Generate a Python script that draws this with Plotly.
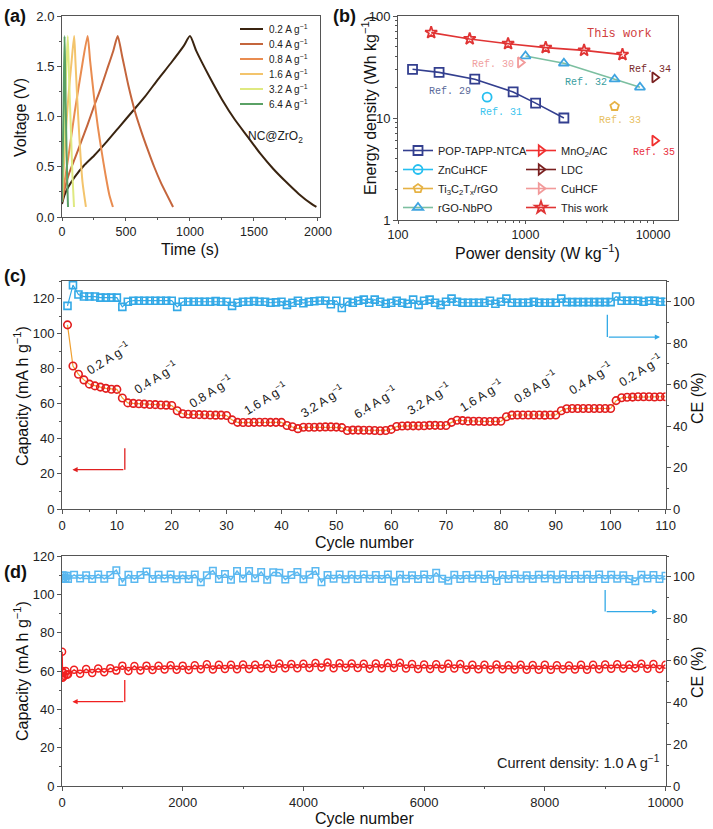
import math
import plotly.graph_objects as go

W, H = 713, 829

# ---------------- (a) GCD data ----------------
gcd_labels = ["0.2 A g<sup>−1</sup>", "0.4 A g<sup>−1</sup>", "0.8 A g<sup>−1</sup>",
              "1.6 A g<sup>−1</sup>", "3.2 A g<sup>−1</sup>", "6.4 A g<sup>−1</sup>"]
gcd_colors = ["#3a2410", "#c4653c", "#e98c50", "#f3c46c", "#dfe981", "#5aa165"]
gcd_t = [
    [0, 20, 50, 100, 170, 250, 350, 450, 550, 650, 750, 850, 950, 1000,
     1050, 1150, 1250, 1350, 1450, 1550, 1650, 1750, 1850, 1950, 1988],
    [0, 25, 60, 100, 150, 200, 250, 300, 350, 400, 435,
     470, 520, 570, 620, 670, 720, 770, 820, 868],
    [0, 20, 50, 100, 150, 200, 220, 250, 280, 310, 340, 370, 398],
    [0, 10, 25, 50, 75, 95, 105, 120, 140, 160, 187],
    [0, 8, 20, 32, 45, 55, 70, 82, 94],
    [0, 5, 12, 20, 25, 32, 40, 47],
]
gcd_v = [
    [0.13, 0.22, 0.30, 0.40, 0.51, 0.61, 0.75, 0.90, 1.05, 1.20, 1.37, 1.53, 1.70, 1.80,
     1.65, 1.40, 1.17, 0.97, 0.80, 0.63, 0.48, 0.35, 0.23, 0.13, 0.10],
    [0.15, 0.30, 0.45, 0.58, 0.75, 0.92, 1.10, 1.27, 1.46, 1.65, 1.80,
     1.60, 1.30, 1.05, 0.85, 0.67, 0.50, 0.35, 0.22, 0.10],
    [0.15, 0.35, 0.60, 1.05, 1.45, 1.80, 1.55, 1.20, 0.90, 0.65, 0.42, 0.22, 0.10],
    [0.15, 0.40, 0.75, 1.20, 1.55, 1.80, 1.55, 1.15, 0.70, 0.35, 0.10],
    [0.15, 0.50, 1.00, 1.45, 1.80, 1.40, 0.85, 0.40, 0.10],
    [0.15, 0.55, 1.10, 1.80, 1.40, 0.90, 0.40, 0.10],
]

# ---------------- (b) Ragone data ----------------
pop_p = [130, 210, 400, 800, 1200, 2000]
pop_e = [30, 28, 24, 18, 14, 10]
zncuhcf_p = [500]
zncuhcf_e = [16]
ti3c2_p = [5000]
ti3c2_e = [13]
nbpo_p = [1000, 2000, 5000, 7900]
nbpo_e = [40.5, 34.4, 24, 20]
mno2_p = [10300]
mno2_e = [6.0]
ldc_p = [10300]
ldc_e = [25]
cuhcf_p = [910]
cuhcf_e = [35]
this_p = [182, 365, 730, 1440, 2880, 5760]
this_e = [68.7, 59.6, 53.5, 49, 46, 41.8]

# ---------------- (c) rate data ----------------
rate_cycle = list(range(1, 111))
rate_cap = [105, 81.5, 76.8, 73.6, 71.2, 70.2, 69.5, 68.8, 68.3, 68.2,
            63.3, 60.5, 60.2, 60.0, 59.8, 59.6, 59.5, 59.3, 59.2, 59.0,
            56.0, 54.3, 54.0, 53.9, 53.8, 53.7, 53.6, 53.5, 53.5, 53.3,
            50.8, 49.4, 49.3, 49.3, 49.4, 49.5, 49.5, 49.4, 49.4, 49.4,
            47.6, 46.9, 45.8, 46.6, 46.6, 46.6, 46.7, 46.8, 46.8, 46.7,
            46.4, 44.8, 45.0, 45.0, 44.9, 44.9, 44.8, 44.6, 44.8, 45.4,
            47.0, 47.3, 47.4, 47.4, 47.4, 47.5, 47.7, 47.7, 47.6, 47.6,
            49.4, 50.6, 50.4, 50.1, 50.0, 50.0, 49.9, 49.9, 50.0, 50.0,
            52.6, 53.5, 53.6, 53.6, 53.6, 53.6, 53.6, 53.5, 53.6, 53.6,
            56.0, 57.2, 57.3, 57.3, 57.3, 57.3, 57.3, 57.3, 57.3, 57.3,
            61.8, 63.4, 63.7, 63.8, 64.0, 64.0, 64.0, 63.9, 64.0, 64.0]
rate_ce = [98, 108, 103.5, 102.5, 102.5, 102.5, 102, 102, 102, 102,
           97.5, 100, 100.5, 100.5, 100.5, 100.5, 100.5, 100.5, 100.5, 100.5,
           97.5, 100, 100, 100, 100, 100, 100, 100.3, 100, 100,
           98, 99.5, 100, 100, 100.3, 100, 100, 99.5, 99.7, 100,
           98.5, 99.5, 100.5, 99.3, 100, 100.2, 100.5, 100.5, 98.8, 100.5,
           97, 100, 99.5, 100.5, 101, 99.5, 101, 100, 99, 99.5,
           100.5, 99.5, 99, 101, 98.5, 100.5, 101, 99.5, 98.5, 100,
           101.5, 100, 99.5, 99.5, 99.5, 99.5, 99.5, 100.5, 99, 100,
           101.5, 99.5, 99.5, 99.5, 99.5, 100, 99.5, 99.5, 99.5, 99.5,
           101.5, 99.8, 99.8, 99.8, 99.8, 99.8, 99.8, 99.8, 99.8, 99.8,
           102.5, 100.5, 100.5, 100.5, 100.5, 100, 100.5, 100.5, 100, 100]
rate_text = ["0.2", "0.4", "0.8", "1.6", "3.2", "6.4", "3.2", "1.6", "0.8", "0.4", "0.2"]
rate_text_x = [8.3, 17.0, 27.0, 37.0, 47.3, 57.0, 66.8, 76.4, 86.3, 96.2, 105.3]
rate_text_y = [86.0, 75.5, 67.5, 63.3, 61.5, 61.0, 63.5, 64.8, 70.0, 74.8, 79.5]

# ---------------- (d) long cycling data ----------------
long_cycle = [1, 3, 6, 10, 20, 40, 60, 80] + list(range(100, 10001, 100))
long_cap = [70, 57, 60, 56.5, 59, 57.5, 60, 58,
            58.3, 60.6, 58.6, 61.0, 59.0, 61.3, 59.3, 61.5, 60.2, 62.8,
            60.0, 62.6, 60.3, 62.8, 60.5, 62.7, 60.8, 63.0, 60.6, 62.8,
            60.5, 63.0, 60.9, 63.5, 60.8, 63.2, 61.0, 63.3, 60.9, 63.4,
            61.1, 63.2, 61.4, 63.6, 61.2, 63.9, 61.4, 63.7, 61.5, 63.8,
            61.6, 64.2, 61.8, 64.4, 61.5, 64.0, 61.7, 63.9, 61.6, 63.8,
            61.2, 63.9, 61.5, 64.2, 61.6, 64.3, 61.3, 63.6, 61.0, 63.4,
            61.0, 63.5, 61.2, 63.8, 61.3, 63.6, 60.8, 63.2, 60.9, 63.3,
            60.8, 63.4, 60.9, 63.0, 60.8, 63.3, 60.6, 63.1, 60.7, 63.2,
            60.7, 63.0, 60.9, 62.9, 60.8, 63.2, 60.6, 63.3, 60.9, 63.4,
            61.2, 63.5, 61.3, 63.2, 61.5, 63.8, 61.2, 63.6, 61.0, 63.3]
long_ce = [99.0, 100.5, 99.5, 100.8, 99.2, 100.6, 99.4, 100.5,
           99.0, 101.0, 99.2, 100.8, 99.0, 101.2, 99.1, 100.9, 103.2, 97.6,
           101.0, 99.0, 100.9, 102.6, 99.0, 101.0, 99.2, 101.1, 98.9, 100.8,
           99.0, 101.2, 97.5, 100.8, 103.0, 99.0, 101.4, 98.6, 102.8, 99.2,
           102.8, 99.3, 102.4, 98.7, 102.2, 102.0, 98.8, 100.9, 102.3, 98.9,
           101.0, 102.8, 97.5, 100.9, 99.1, 101.1, 98.9, 101.0, 99.0, 101.2,
           99.1, 100.9, 99.0, 101.2, 97.8, 101.0, 99.1, 100.8, 99.0, 101.1,
           99.0, 102.0, 99.1, 98.2, 101.0, 99.0, 100.9, 99.2, 101.0, 99.0,
           101.1, 98.0, 100.9, 99.0, 101.1, 99.1, 100.8, 99.0, 101.0, 99.2,
           101.0, 98.9, 101.1, 99.0, 100.9, 99.1, 101.0, 99.0, 101.2, 99.0,
           101.0, 99.1, 100.8, 99.0, 97.9, 101.0, 99.2, 100.9, 99.0, 100.5]

# ---------------- layout helpers ----------------
def xdom(l, r):
    return [l / W, r / W]

def ydom(t, b):
    return [1 - b / H, 1 - t / H]

def px(x):
    return x / W

def py(y):
    return 1 - y / H

FONT = "Liberation Sans"
AX = "#555555"
TICKF = dict(family=FONT, size=13, color="#222222")
TICKF_TOP = dict(family=FONT, size=12.5, color="#222222")
TITLEF = dict(family=FONT, size=16, color="#111111")

fig = go.Figure()

# (a)
for t, v, c, lab in zip(gcd_t, gcd_v, gcd_colors, gcd_labels):
    fig.add_trace(go.Scatter(x=t, y=v, mode="lines", name=lab, showlegend=False,
                             line=dict(color=c, width=2, shape="spline", smoothing=0.6),
                             xaxis="x", yaxis="y"))

# (b)
REF_COL = dict(pop="#333f8f", zn="#26bff0", ti="#e6b244", nb="#3ea4e0", mn="#f03030", ldc="#7a2020",
               cu="#f29a9a", tw="#e03434")
left_items = [
    ("POP-TAPP-NTCA", pop_p, pop_e, REF_COL["pop"], REF_COL["pop"], "square-open"),
    ("ZnCuHCF", zncuhcf_p, zncuhcf_e, REF_COL["zn"], REF_COL["zn"], "circle-open"),
    ("Ti<sub>3</sub>C<sub>2</sub>T<sub>x</sub>/rGO", ti3c2_p, ti3c2_e, REF_COL["ti"], REF_COL["ti"], "pentagon-open"),
    ("rGO-NbPO", nbpo_p, nbpo_e, "#7cbfa0", REF_COL["nb"], "triangle-up-open"),
]
right_items = [
    ("MnO<sub>2</sub>/AC", mno2_p, mno2_e, REF_COL["mn"], REF_COL["mn"], "triangle-right-open"),
    ("LDC", ldc_p, ldc_e, REF_COL["ldc"], REF_COL["ldc"], "triangle-right-open"),
    ("CuHCF", cuhcf_p, cuhcf_e, REF_COL["cu"], REF_COL["cu"], "triangle-right-open"),
    ("This work", this_p, this_e, REF_COL["tw"], REF_COL["tw"], "star-open"),
]
for items, lg in ((left_items, "legend2"), (right_items, "legend3")):
    for name, xs, ys, lc, mc, sym in items:
        fig.add_trace(go.Scatter(x=xs, y=ys, mode="lines+markers", name=name,
                                 line=dict(color=lc, width=1.6),
                                 marker=dict(symbol=sym, size=9, color=mc, line=dict(width=1.8, color=mc)),
                                 xaxis="x2", yaxis="y2", legend=lg))

# (c)
fig.add_trace(go.Scatter(x=rate_cycle, y=rate_cap, mode="lines+markers", showlegend=False,
                         line=dict(color="#f0a030", width=1.2),
                         marker=dict(symbol="circle-open", size=7.5, color="#e21d1d", line=dict(width=1.6)),
                         xaxis="x3", yaxis="y3"))
fig.add_trace(go.Scatter(x=rate_cycle, y=rate_ce, mode="lines+markers", showlegend=False,
                         line=dict(color="#33a9e6", width=1.2),
                         marker=dict(symbol="square-open", size=7, color="#33a9e6", line=dict(width=1.6)),
                         xaxis="x3", yaxis="y4"))

# (d)
fig.add_trace(go.Scatter(x=long_cycle, y=long_cap, mode="lines+markers", showlegend=False,
                         line=dict(color="#f02020", width=1.5),
                         marker=dict(symbol="circle-open", size=7, color="#f02020", line=dict(width=1.5)),
                         xaxis="x4", yaxis="y5"))
fig.add_trace(go.Scatter(x=long_cycle, y=long_ce, mode="lines+markers", showlegend=False,
                         line=dict(color="#5ab8f0", width=1.5),
                         marker=dict(symbol="square-open", size=6.5, color="#5ab8f0", line=dict(width=1.5)),
                         xaxis="x4", yaxis="y6"))

def axis(dom, rng, **kw):
    d = dict(domain=dom, range=rng, showline=True, linecolor=AX, linewidth=1, mirror=False, automargin=False,
             ticks="outside", ticklen=4, tickcolor=AX, tickfont=TICKF, showgrid=False, zeroline=False)
    d.update(kw)
    return d

minor = lambda dt: dict(ticks="outside", ticklen=2, tickcolor=AX, dtick=dt, showgrid=False)

fig.update_layout(
    width=W, height=H, margin=dict(l=0, r=0, t=0, b=0, autoexpand=False),
    paper_bgcolor="white", plot_bgcolor="white",
    font=dict(family=FONT, color="#222"),
    xaxis=axis(xdom(62, 320), [0, 2016], anchor="y", mirror=True, dtick=500, minor=minor(250),
               ticklen=3, tickfont=TICKF_TOP),
    yaxis=axis(ydom(16, 217), [0, 2.0], anchor="x", mirror=True, dtick=0.5, tickformat=".1f", minor=minor(0.25)),
    xaxis2=axis(xdom(398, 678), [2, 4.196], type="log", anchor="y2", mirror=True, ticklen=3, tickfont=TICKF_TOP,
                tickvals=[100, 1000, 10000], ticktext=["100", "1000", "10000"],
                minor=dict(ticks="outside", ticklen=2, tickcolor=AX,
                           tickvals=[200, 300, 400, 500, 600, 700, 800, 900, 2000, 3000, 4000, 5000, 6000, 7000, 8000, 9000])),
    yaxis2=axis(ydom(16, 220), [0, 2], type="log", anchor="x2", mirror=True,
                tickvals=[1, 10, 100], ticktext=["1", "10", "100"],
                minor=dict(ticks="outside", ticklen=2, tickcolor=AX,
                           tickvals=[2, 3, 4, 5, 6, 7, 8, 9, 20, 30, 40, 50, 60, 70, 80, 90])),
    xaxis3=axis(xdom(62, 665.5), [0, 110], anchor="y3", mirror=True, dtick=10, minor=minor(5)),
    yaxis3=axis(ydom(281, 509), [0, 130], anchor="x3", dtick=20, minor=minor(10)),
    yaxis4=axis(ydom(281, 509), [0, 110], anchor="x3", overlaying="y3", side="right", dtick=20, minor=minor(10)),
    xaxis4=axis(xdom(62, 665.5), [0, 10000], anchor="y5", mirror=True, dtick=2000, tickformat="d", minor=minor(1000)),
    yaxis5=axis(ydom(556, 786), [0, 120], anchor="x4", dtick=20, minor=minor(10)),
    yaxis6=axis(ydom(556, 786), [0, 110], anchor="x4", overlaying="y5", side="right", dtick=20, minor=minor(10)),
    legend2=dict(x=px(398), y=py(136), xanchor="left", yanchor="top", bgcolor="rgba(0,0,0,0)",
                 font=dict(family=FONT, size=11, color="#222"), tracegroupgap=0, itemwidth=30),
    legend3=dict(x=px(521), y=py(136), xanchor="left", yanchor="top", bgcolor="rgba(0,0,0,0)",
                 font=dict(family=FONT, size=11, color="#222"), tracegroupgap=0, itemwidth=30),
)

ann = []
shapes = []
# panel labels
for txt, x, y in (("(a)", 2, 4), ("(b)", 331, 4), ("(c)", 2, 264), ("(d)", 2, 560)):
    ann.append(dict(text="<b>" + txt + "</b>", x=px(x), y=py(y), xref="paper", yref="paper",
                    xanchor="left", yanchor="top", showarrow=False, font=dict(family=FONT, size=18, color="#111")))
# axis titles
for txt, x, y, ang in (("Voltage (V)", 20, 118, -90), ("Time (s)", 190, 250, 0),
                       ("Energy density (Wh kg<sup>−1</sup>)", 369, 106, -90),
                       ("Power density (W kg<sup>−1</sup>)", 537, 252, 0),
                       ("Capacity (mA h g<sup>−1</sup>)", 21, 396, -90), ("CE (%)", 697, 398, -90),
                       ("Cycle number", 364, 542, 0),
                       ("Capacity (mA h g<sup>−1</sup>)", 21, 671, -90), ("CE (%)", 697, 672, -90),
                       ("Cycle number", 364, 818, 0)):
    ann.append(dict(text=txt, x=px(x), y=py(y), xref="paper", yref="paper", xanchor="center", yanchor="middle",
                    textangle=ang, showarrow=False, font=TITLEF))
# (a) legend (drawn manually for tight row spacing)
for i, (lab, c) in enumerate(zip(gcd_labels, gcd_colors)):
    yy = 29 + 15 * i
    shapes.append(dict(type="line", x0=px(240), x1=px(263), y0=py(yy), y1=py(yy), xref="paper", yref="paper",
                       line=dict(color=c, width=2)))
    ann.append(dict(text=lab, x=px(267), y=py(yy), xref="paper", yref="paper", xanchor="left", yanchor="middle",
                    showarrow=False, font=dict(family=FONT, size=10, color="#222")))
# (a) material label
ann.append(dict(text="NC@ZrO<sub>2</sub>", x=1670, y=0.8, xref="x", yref="y", showarrow=False,
                font=dict(family=FONT, size=12, color="#222")))
# (b) reference labels
MONO = "Liberation Mono"
for txt, x, y, c in (("Ref. 29", 254, 18.1, "#5a6a9a"), ("Ref. 30", 556, 33.6, "#f0a0a0"),
                     ("Ref. 31", 646, 11.3, "#3ac4ee"), ("Ref. 32", 3000, 22.2, "#3a9ea0"),
                     ("Ref. 33", 5480, 9.4, "#e8c060"), ("Ref. 34", 9420, 30.2, "#7a2a2a"),
                     ("Ref. 35", 10100, 4.6, "#e83040"), ("This work", 5480, 66, "#d04040")):
    ann.append(dict(text=txt, x=math.log10(x), y=math.log10(y), xref="x2", yref="y2", showarrow=False,
                    font=dict(family=MONO, size=12 if txt == "This work" else 10, color=c)))
# (c) rate labels
for t, x, y in zip(rate_text, rate_text_x, rate_text_y):
    ann.append(dict(text=t + " A g<sup>−1</sup>", x=x, y=y, xref="x3", yref="y3", showarrow=False, textangle=-32,
                    font=dict(family=FONT, size=12.5, color="#222")))
# (c) arrows
ann.append(dict(x=1.9, y=22.4, ax=11.45, ay=22.4, xref="x3", yref="y3", axref="x3", ayref="y3",
                showarrow=True, arrowhead=2, arrowsize=0.8, arrowwidth=1.3, arrowcolor="#e02020", text=""))
ann.append(dict(x=109, y=98, ax=99.4, ay=98, xref="x3", yref="y3", axref="x3", ayref="y3",
                showarrow=True, arrowhead=2, arrowsize=0.8, arrowwidth=1.3, arrowcolor="#33a9e6", text=""))
# (d) arrows
ann.append(dict(x=173, y=44, ax=1040, ay=44, xref="x4", yref="y5", axref="x4", ayref="y5",
                showarrow=True, arrowhead=2, arrowsize=0.8, arrowwidth=1.3, arrowcolor="#f02020", text=""))
ann.append(dict(x=9865, y=91, ax=9000, ay=91, xref="x4", yref="y5", axref="x4", ayref="y5",
                showarrow=True, arrowhead=2, arrowsize=0.8, arrowwidth=1.3, arrowcolor="#33a9e6", text=""))
ann.append(dict(text="Current density: 1.0 A g<sup>−1</sup>", x=9940, y=12.5, xref="x4", yref="y5",
                xanchor="right", showarrow=False, font=dict(family=FONT, size=14.5, color="#222")))

shapes += [
    dict(type="line", x0=11.45, x1=11.45, y0=34.7, y1=22.4, xref="x3", yref="y3", line=dict(color="#e02020", width=1.3)),
    dict(type="line", x0=99.4, x1=99.4, y0=110.7, y1=98, xref="x3", yref="y3", line=dict(color="#33a9e6", width=1.3)),
    dict(type="line", x0=1040, x1=1040, y0=55.3, y1=44, xref="x4", yref="y5", line=dict(color="#f02020", width=1.3)),
    dict(type="line", x0=9000, x1=9000, y0=102.3, y1=91, xref="x4", yref="y5", line=dict(color="#33a9e6", width=1.3)),
]
fig.update_layout(annotations=ann, shapes=shapes)

fig.write_html("out.html", config={"displayModeBar": False},
               post_script="document.body.style.margin='0px';document.body.style.overflow='hidden';")
